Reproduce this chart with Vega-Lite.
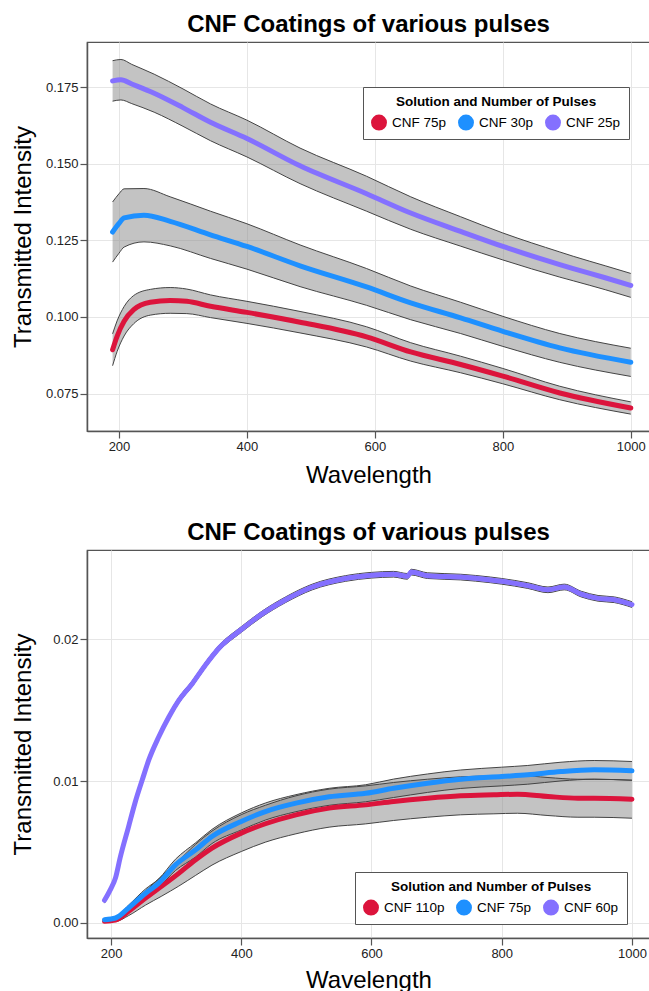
{
  "$schema": "https://vega.github.io/schema/vega-lite/v6.json",
  "padding": {"left": 10, "top": 12, "right": 0, "bottom": 0},
  "spacing": 32,
  "background": "white",
  "datasets": {
    "top": [
      {"s": "CNF 75p", "wl": 190, "y": 0.0893, "lo": 0.0841, "hi": 0.0945},
      {"s": "CNF 75p", "wl": 197, "y": 0.0937, "lo": 0.0887, "hi": 0.0987},
      {"s": "CNF 75p", "wl": 208, "y": 0.0986, "lo": 0.0938, "hi": 0.1034},
      {"s": "CNF 75p", "wl": 223, "y": 0.1024, "lo": 0.0978, "hi": 0.1070},
      {"s": "CNF 75p", "wl": 249, "y": 0.1048, "lo": 0.1006, "hi": 0.1090},
      {"s": "CNF 75p", "wl": 280, "y": 0.1054, "lo": 0.1012, "hi": 0.1096},
      {"s": "CNF 75p", "wl": 306, "y": 0.1051, "lo": 0.1011, "hi": 0.1091},
      {"s": "CNF 75p", "wl": 343, "y": 0.1035, "lo": 0.0998, "hi": 0.1072},
      {"s": "CNF 75p", "wl": 400, "y": 0.1015, "lo": 0.0979, "hi": 0.1051},
      {"s": "CNF 75p", "wl": 483, "y": 0.0983, "lo": 0.0948, "hi": 0.1018},
      {"s": "CNF 75p", "wl": 587, "y": 0.0935, "lo": 0.0902, "hi": 0.0968},
      {"s": "CNF 75p", "wl": 656, "y": 0.0886, "lo": 0.0856, "hi": 0.0916},
      {"s": "CNF 75p", "wl": 734, "y": 0.0845, "lo": 0.0818, "hi": 0.0872},
      {"s": "CNF 75p", "wl": 800, "y": 0.0807, "lo": 0.0782, "hi": 0.0832},
      {"s": "CNF 75p", "wl": 889, "y": 0.0752, "lo": 0.0730, "hi": 0.0774},
      {"s": "CNF 75p", "wl": 1000, "y": 0.0703, "lo": 0.0683, "hi": 0.0723},
      {"s": "CNF 30p", "wl": 190, "y": 0.1277, "lo": 0.1179, "hi": 0.1375},
      {"s": "CNF 30p", "wl": 200, "y": 0.1305, "lo": 0.1208, "hi": 0.1402},
      {"s": "CNF 30p", "wl": 208, "y": 0.1323, "lo": 0.1228, "hi": 0.1418},
      {"s": "CNF 30p", "wl": 239, "y": 0.1332, "lo": 0.1245, "hi": 0.1419},
      {"s": "CNF 30p", "wl": 280, "y": 0.1312, "lo": 0.1232, "hi": 0.1392},
      {"s": "CNF 30p", "wl": 343, "y": 0.1268, "lo": 0.1191, "hi": 0.1345},
      {"s": "CNF 30p", "wl": 400, "y": 0.1230, "lo": 0.1156, "hi": 0.1304},
      {"s": "CNF 30p", "wl": 483, "y": 0.1167, "lo": 0.1099, "hi": 0.1235},
      {"s": "CNF 30p", "wl": 587, "y": 0.1098, "lo": 0.1038, "hi": 0.1158},
      {"s": "CNF 30p", "wl": 656, "y": 0.1046, "lo": 0.0991, "hi": 0.1101},
      {"s": "CNF 30p", "wl": 734, "y": 0.0997, "lo": 0.0946, "hi": 0.1048},
      {"s": "CNF 30p", "wl": 800, "y": 0.0953, "lo": 0.0904, "hi": 0.1002},
      {"s": "CNF 30p", "wl": 889, "y": 0.0899, "lo": 0.0852, "hi": 0.0946},
      {"s": "CNF 30p", "wl": 1000, "y": 0.0852, "lo": 0.0806, "hi": 0.0898},
      {"s": "CNF 25p", "wl": 190, "y": 0.1770, "lo": 0.1704, "hi": 0.1836},
      {"s": "CNF 25p", "wl": 203, "y": 0.1774, "lo": 0.1708, "hi": 0.1840},
      {"s": "CNF 25p", "wl": 220, "y": 0.1760, "lo": 0.1696, "hi": 0.1824},
      {"s": "CNF 25p", "wl": 255, "y": 0.1730, "lo": 0.1668, "hi": 0.1792},
      {"s": "CNF 25p", "wl": 300, "y": 0.1683, "lo": 0.1622, "hi": 0.1744},
      {"s": "CNF 25p", "wl": 343, "y": 0.1635, "lo": 0.1575, "hi": 0.1695},
      {"s": "CNF 25p", "wl": 400, "y": 0.1582, "lo": 0.1522, "hi": 0.1642},
      {"s": "CNF 25p", "wl": 483, "y": 0.1493, "lo": 0.1435, "hi": 0.1551},
      {"s": "CNF 25p", "wl": 587, "y": 0.1402, "lo": 0.1345, "hi": 0.1459},
      {"s": "CNF 25p", "wl": 656, "y": 0.1339, "lo": 0.1286, "hi": 0.1392},
      {"s": "CNF 25p", "wl": 734, "y": 0.1279, "lo": 0.1231, "hi": 0.1327},
      {"s": "CNF 25p", "wl": 800, "y": 0.1230, "lo": 0.1186, "hi": 0.1274},
      {"s": "CNF 25p", "wl": 889, "y": 0.1171, "lo": 0.1130, "hi": 0.1212},
      {"s": "CNF 25p", "wl": 910, "y": 0.1158, "lo": 0.1118, "hi": 0.1198},
      {"s": "CNF 25p", "wl": 960, "y": 0.1128, "lo": 0.1089, "hi": 0.1167},
      {"s": "CNF 25p", "wl": 1000, "y": 0.1103, "lo": 0.1064, "hi": 0.1142}
    ],
    "bottom": [
      {"s": "CNF 110p", "wl": 190, "y": 0.00012, "lo": 0.00007, "hi": 0.00017},
      {"s": "CNF 110p", "wl": 207, "y": 0.0002, "lo": 0.0001, "hi": 0.0003},
      {"s": "CNF 110p", "wl": 227, "y": 0.00082, "lo": 0.00052, "hi": 0.00112},
      {"s": "CNF 110p", "wl": 253, "y": 0.00176, "lo": 0.00126, "hi": 0.00226},
      {"s": "CNF 110p", "wl": 278, "y": 0.0026, "lo": 0.0019, "hi": 0.0033},
      {"s": "CNF 110p", "wl": 304, "y": 0.0035, "lo": 0.0026, "hi": 0.0044},
      {"s": "CNF 110p", "wl": 330, "y": 0.00446, "lo": 0.00336, "hi": 0.00556},
      {"s": "CNF 110p", "wl": 355, "y": 0.00528, "lo": 0.00408, "hi": 0.00648},
      {"s": "CNF 110p", "wl": 400, "y": 0.00634, "lo": 0.00504, "hi": 0.00764},
      {"s": "CNF 110p", "wl": 437, "y": 0.0070, "lo": 0.0057, "hi": 0.0083},
      {"s": "CNF 110p", "wl": 484, "y": 0.00763, "lo": 0.00629, "hi": 0.00897},
      {"s": "CNF 110p", "wl": 535, "y": 0.0081, "lo": 0.00676, "hi": 0.00944},
      {"s": "CNF 110p", "wl": 591, "y": 0.00833, "lo": 0.00699, "hi": 0.00967},
      {"s": "CNF 110p", "wl": 634, "y": 0.00857, "lo": 0.00723, "hi": 0.00991},
      {"s": "CNF 110p", "wl": 686, "y": 0.0088, "lo": 0.00746, "hi": 0.01014},
      {"s": "CNF 110p", "wl": 737, "y": 0.00897, "lo": 0.00763, "hi": 0.01031},
      {"s": "CNF 110p", "wl": 788, "y": 0.00904, "lo": 0.0077, "hi": 0.01038},
      {"s": "CNF 110p", "wl": 824, "y": 0.00908, "lo": 0.00774, "hi": 0.01042},
      {"s": "CNF 110p", "wl": 871, "y": 0.00892, "lo": 0.00758, "hi": 0.01026},
      {"s": "CNF 110p", "wl": 917, "y": 0.0088, "lo": 0.00746, "hi": 0.01014},
      {"s": "CNF 110p", "wl": 942, "y": 0.0088, "lo": 0.00746, "hi": 0.01014},
      {"s": "CNF 110p", "wl": 1000, "y": 0.00873, "lo": 0.00739, "hi": 0.01007},
      {"s": "CNF 75p", "wl": 190, "y": 0.00023, "lo": 0.00013, "hi": 0.00033},
      {"s": "CNF 75p", "wl": 207, "y": 0.00035, "lo": 0.00025, "hi": 0.00045},
      {"s": "CNF 75p", "wl": 227, "y": 0.00106, "lo": 0.00086, "hi": 0.00126},
      {"s": "CNF 75p", "wl": 253, "y": 0.0021, "lo": 0.0018, "hi": 0.0024},
      {"s": "CNF 75p", "wl": 273, "y": 0.0028, "lo": 0.0025, "hi": 0.0031},
      {"s": "CNF 75p", "wl": 299, "y": 0.0041, "lo": 0.0037, "hi": 0.0045},
      {"s": "CNF 75p", "wl": 330, "y": 0.00516, "lo": 0.00466, "hi": 0.00566},
      {"s": "CNF 75p", "wl": 355, "y": 0.0061, "lo": 0.0056, "hi": 0.0066},
      {"s": "CNF 75p", "wl": 400, "y": 0.00716, "lo": 0.00656, "hi": 0.00776},
      {"s": "CNF 75p", "wl": 437, "y": 0.00786, "lo": 0.00726, "hi": 0.00846},
      {"s": "CNF 75p", "wl": 484, "y": 0.00845, "lo": 0.00785, "hi": 0.00905},
      {"s": "CNF 75p", "wl": 535, "y": 0.0089, "lo": 0.0083, "hi": 0.0095},
      {"s": "CNF 75p", "wl": 591, "y": 0.00915, "lo": 0.00855, "hi": 0.00975},
      {"s": "CNF 75p", "wl": 634, "y": 0.0095, "lo": 0.00885, "hi": 0.01015},
      {"s": "CNF 75p", "wl": 686, "y": 0.00986, "lo": 0.00921, "hi": 0.01051},
      {"s": "CNF 75p", "wl": 737, "y": 0.01014, "lo": 0.00949, "hi": 0.01079},
      {"s": "CNF 75p", "wl": 800, "y": 0.01033, "lo": 0.00967, "hi": 0.01099},
      {"s": "CNF 75p", "wl": 840, "y": 0.01045, "lo": 0.00979, "hi": 0.01111},
      {"s": "CNF 75p", "wl": 891, "y": 0.01068, "lo": 0.01002, "hi": 0.01134},
      {"s": "CNF 75p", "wl": 942, "y": 0.0108, "lo": 0.01014, "hi": 0.01146},
      {"s": "CNF 75p", "wl": 1000, "y": 0.01073, "lo": 0.01007, "hi": 0.01139},
      {"s": "CNF 60p", "wl": 190, "y": 0.0016, "lo": 0.0014, "hi": 0.0018},
      {"s": "CNF 60p", "wl": 199, "y": 0.00235, "lo": 0.00215, "hi": 0.00255},
      {"s": "CNF 60p", "wl": 207, "y": 0.0032, "lo": 0.003, "hi": 0.0034},
      {"s": "CNF 60p", "wl": 214, "y": 0.0046, "lo": 0.0044, "hi": 0.0048},
      {"s": "CNF 60p", "wl": 227, "y": 0.0068, "lo": 0.0066, "hi": 0.007},
      {"s": "CNF 60p", "wl": 237, "y": 0.0085, "lo": 0.0083, "hi": 0.0087},
      {"s": "CNF 60p", "wl": 248, "y": 0.0101, "lo": 0.0099, "hi": 0.0103},
      {"s": "CNF 60p", "wl": 258, "y": 0.0115, "lo": 0.0113, "hi": 0.0117},
      {"s": "CNF 60p", "wl": 273, "y": 0.0131, "lo": 0.0129, "hi": 0.0133},
      {"s": "CNF 60p", "wl": 289, "y": 0.01455, "lo": 0.01435, "hi": 0.01475},
      {"s": "CNF 60p", "wl": 304, "y": 0.0157, "lo": 0.0155, "hi": 0.0159},
      {"s": "CNF 60p", "wl": 325, "y": 0.0169, "lo": 0.0167, "hi": 0.0171},
      {"s": "CNF 60p", "wl": 345, "y": 0.0182, "lo": 0.018, "hi": 0.0184},
      {"s": "CNF 60p", "wl": 366, "y": 0.0194, "lo": 0.0192, "hi": 0.0196},
      {"s": "CNF 60p", "wl": 400, "y": 0.0207, "lo": 0.0205, "hi": 0.0209},
      {"s": "CNF 60p", "wl": 432, "y": 0.0218, "lo": 0.0216, "hi": 0.022},
      {"s": "CNF 60p", "wl": 468, "y": 0.0228, "lo": 0.0226, "hi": 0.023},
      {"s": "CNF 60p", "wl": 509, "y": 0.0237, "lo": 0.0235, "hi": 0.0239},
      {"s": "CNF 60p", "wl": 560, "y": 0.0243, "lo": 0.0241, "hi": 0.0245},
      {"s": "CNF 60p", "wl": 600, "y": 0.02453, "lo": 0.02433, "hi": 0.02473},
      {"s": "CNF 60p", "wl": 634, "y": 0.0246, "lo": 0.0244, "hi": 0.0248},
      {"s": "CNF 60p", "wl": 655, "y": 0.02445, "lo": 0.02425, "hi": 0.02465},
      {"s": "CNF 60p", "wl": 661, "y": 0.02475, "lo": 0.02455, "hi": 0.02495},
      {"s": "CNF 60p", "wl": 686, "y": 0.0245, "lo": 0.0243, "hi": 0.0247},
      {"s": "CNF 60p", "wl": 737, "y": 0.0244, "lo": 0.0242, "hi": 0.0246},
      {"s": "CNF 60p", "wl": 783, "y": 0.0242, "lo": 0.024, "hi": 0.0244},
      {"s": "CNF 60p", "wl": 800, "y": 0.0241, "lo": 0.0239, "hi": 0.0243},
      {"s": "CNF 60p", "wl": 840, "y": 0.0238, "lo": 0.0236, "hi": 0.024},
      {"s": "CNF 60p", "wl": 871, "y": 0.0235, "lo": 0.0233, "hi": 0.0237},
      {"s": "CNF 60p", "wl": 896, "y": 0.0237, "lo": 0.0235, "hi": 0.0239},
      {"s": "CNF 60p", "wl": 922, "y": 0.0232, "lo": 0.023, "hi": 0.0234},
      {"s": "CNF 60p", "wl": 948, "y": 0.0229, "lo": 0.0227, "hi": 0.0231},
      {"s": "CNF 60p", "wl": 973, "y": 0.0228, "lo": 0.0226, "hi": 0.023},
      {"s": "CNF 60p", "wl": 1000, "y": 0.02246, "lo": 0.02226, "hi": 0.02266}
    ]
  },
  "resolve": {"scale": {"color": "independent"}, "legend": {"color": "independent"}},
  "vconcat": [
    {
      "name": "p1",
      "width": 563,
      "height": 389,
      "title": "CNF Coatings of various pulses",
      "data": {"name": "top"},
      "layer": [
        {
          "mark": {"type": "area", "fill": "#888888", "opacity": 0.5, "interpolate": "monotone"},
          "encoding": {
            "x": {"field": "wl", "type": "quantitative", "title": "Wavelength", "scale": {"domain": [150, 1030], "nice": false, "zero": false}, "axis": {"values": [200, 400, 600, 800, 1000], "format": "d", "titlePadding": 10}},
            "y": {"field": "lo", "type": "quantitative", "title": "Transmitted Intensity", "scale": {"domain": [0.0628, 0.1897], "nice": false, "zero": false}, "axis": {"values": [0.075, 0.1, 0.125, 0.15, 0.175], "format": ".3f", "titleX": -64, "titleBaseline": "middle"}},
            "y2": {"field": "hi"},
            "detail": {"field": "s"}
          }
        },
        {
          "mark": {"type": "line", "stroke": "#444444", "strokeWidth": 1, "interpolate": "monotone"},
          "encoding": {
            "x": {"field": "wl", "type": "quantitative", "title": "Wavelength"},
            "y": {"field": "hi", "type": "quantitative", "title": "Transmitted Intensity"},
            "detail": {"field": "s"}
          }
        },
        {
          "mark": {"type": "line", "stroke": "#444444", "strokeWidth": 1, "interpolate": "monotone"},
          "encoding": {
            "x": {"field": "wl", "type": "quantitative", "title": "Wavelength"},
            "y": {"field": "lo", "type": "quantitative", "title": "Transmitted Intensity"},
            "detail": {"field": "s"}
          }
        },
        {
          "mark": {"type": "line", "strokeWidth": 5, "strokeCap": "round", "interpolate": "monotone"},
          "encoding": {
            "x": {"field": "wl", "type": "quantitative", "title": "Wavelength"},
            "y": {"field": "y", "type": "quantitative", "title": "Transmitted Intensity"},
            "color": {
              "field": "s", "type": "nominal", "title": "Solution and Number of Pulses",
              "scale": {"domain": ["CNF 75p", "CNF 30p", "CNF 25p"], "range": ["#DC143C", "#1E90FF", "#8470FF"]},
              "legend": {"legendX": 276, "legendY": 45, "encode": {"symbols": {"update": {"fill": {"scale": "p1_color", "field": "value"}}}}}
            }
          }
        }
      ]
    },
    {
      "name": "p2",
      "width": 563,
      "height": 388,
      "title": "CNF Coatings of various pulses",
      "data": {"name": "bottom"},
      "layer": [
        {
          "mark": {"type": "area", "fill": "#888888", "opacity": 0.5, "interpolate": "monotone"},
          "encoding": {
            "x": {"field": "wl", "type": "quantitative", "title": "Wavelength", "scale": {"domain": [163.1, 1027.7], "nice": false, "zero": false}, "axis": {"values": [200, 400, 600, 800, 1000], "format": "d"}},
            "y": {"field": "lo", "type": "quantitative", "title": "Transmitted Intensity", "scale": {"domain": [-0.00106, 0.02631], "nice": false, "zero": false}, "axis": {"values": [0, 0.01, 0.02], "format": ".2f", "titleX": -64, "titleBaseline": "middle"}},
            "y2": {"field": "hi"},
            "detail": {"field": "s"}
          }
        },
        {
          "mark": {"type": "line", "stroke": "#444444", "strokeWidth": 1, "interpolate": "monotone"},
          "encoding": {
            "x": {"field": "wl", "type": "quantitative", "title": "Wavelength"},
            "y": {"field": "hi", "type": "quantitative", "title": "Transmitted Intensity"},
            "detail": {"field": "s"}
          }
        },
        {
          "mark": {"type": "line", "stroke": "#444444", "strokeWidth": 1, "interpolate": "monotone"},
          "encoding": {
            "x": {"field": "wl", "type": "quantitative", "title": "Wavelength"},
            "y": {"field": "lo", "type": "quantitative", "title": "Transmitted Intensity"},
            "detail": {"field": "s"}
          }
        },
        {
          "mark": {"type": "line", "strokeWidth": 5, "strokeCap": "round", "interpolate": "monotone"},
          "encoding": {
            "x": {"field": "wl", "type": "quantitative", "title": "Wavelength"},
            "y": {"field": "y", "type": "quantitative", "title": "Transmitted Intensity"},
            "color": {
              "field": "s", "type": "nominal", "title": "Solution and Number of Pulses",
              "scale": {"domain": ["CNF 110p", "CNF 75p", "CNF 60p"], "range": ["#DC143C", "#1E90FF", "#8470FF"]},
              "legend": {"legendX": 268, "legendY": 322, "encode": {"symbols": {"update": {"fill": {"scale": "p2_color", "field": "value"}}}}}
            }
          }
        }
      ]
    }
  ],
  "config": {
    "font": "Liberation Sans",
    "view": {"stroke": "#555555", "strokeWidth": 1.2},
    "axis": {
      "domainColor": "#555555", "domainWidth": 1.5, "tickColor": "#555555", "tickSize": 7, "tickWidth": 1.2,
      "labelFontSize": 13, "labelColor": "#222222", "labelPadding": 2,
      "titleFontSize": 24, "titleFontWeight": "normal", "titleColor": "#000000",
      "gridColor": "#e6e6e6", "gridWidth": 1
    },
    "axisX": {"titlePadding": 8, "labelFlush": false},
    "axisY": {"titlePadding": 8},
    "title": {"fontSize": 24, "fontWeight": "bold", "offset": 5, "anchor": "middle", "color": "#000000"},
    "legend": {
      "orient": "none", "direction": "horizontal",
      "titleFontSize": 13.5, "titleFontWeight": "bold", "titleColor": "#000000", "titleLimit": 500,
      "titleAnchor": "middle", "titleAlign": "center", "titlePadding": 6,
      "labelFontSize": 13.5, "labelColor": "#000000", "labelOffset": 5, "labelLimit": 300,
      "symbolType": "circle", "symbolSize": 254, "symbolStrokeWidth": 0,
      "columnPadding": 11, "padding": 8,
      "strokeColor": "#555555", "fillColor": "#ffffff"
    }
  }
}
